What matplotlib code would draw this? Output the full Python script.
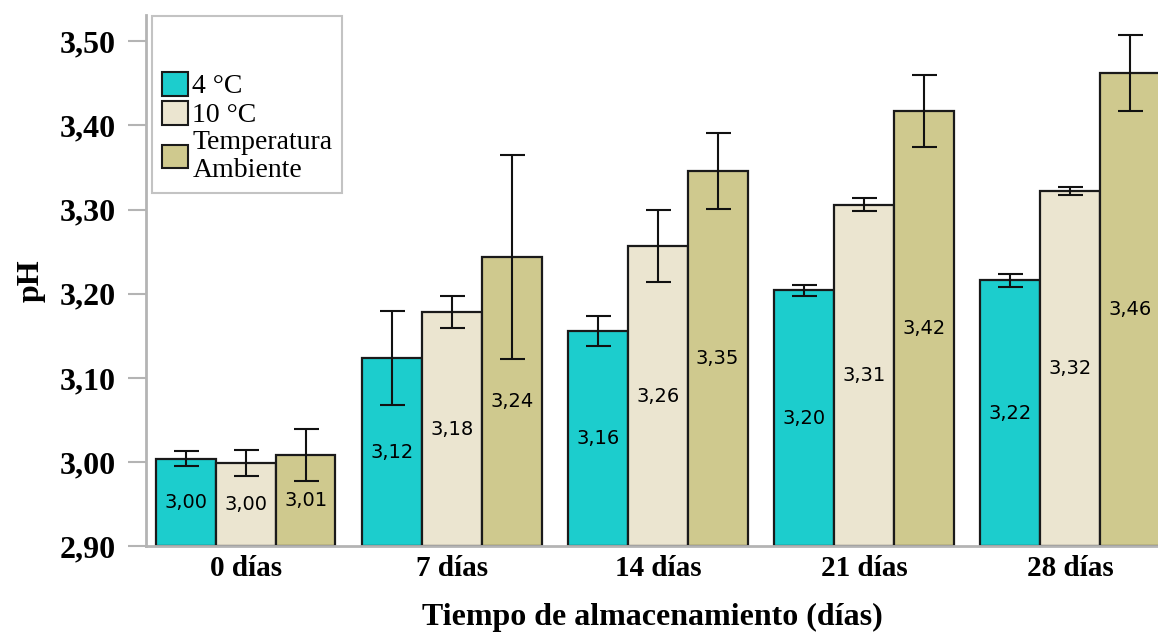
import numpy as np
import matplotlib
matplotlib.use("Agg")
import matplotlib.pyplot as plt

# storage time groups and temperature treatments
dias = ["0 días", "7 días", "14 días", "21 días", "28 días"]
tratamientos = ["4 °C", "10 °C", "Temperatura\nAmbiente"]

# mean pH per treatment
ph_4c = [3.004, 3.124, 3.156, 3.204, 3.216]
ph_10c = [2.999, 3.178, 3.257, 3.306, 3.322]
ph_amb = [3.008, 3.244, 3.346, 3.417, 3.462]

# error bar half-widths
err_4c = [0.009, 0.056, 0.018, 0.007, 0.008]
err_10c = [0.015, 0.019, 0.043, 0.008, 0.005]
err_amb = [0.031, 0.121, 0.045, 0.043, 0.045]

colores = ["#1ccdcd", "#ebe5d0", "#cfc98e"]
serif = "Liberation Serif"

fig = plt.figure(figsize=(11.58, 6.33), dpi=100)
ax = fig.add_axes([0.126, 0.137, 0.874, 0.839])

x = np.arange(len(dias))
ancho = 0.29
grid_color = "#b4b4b4"

series = [(ph_4c, err_4c), (ph_10c, err_10c), (ph_amb, err_amb)]
for i, ((vals, errs), color, nombre) in enumerate(zip(series, colores, tratamientos)):
    pos = x + (i - 1) * ancho
    base = 2.90
    ax.bar(pos, np.array(vals) - base, bottom=base, width=ancho, color=color,
           edgecolor="#1a1a1a", linewidth=1.6, label=nombre, zorder=2)
    ax.errorbar(pos, vals, yerr=errs, fmt="none", ecolor="#111111",
                elinewidth=1.5, capsize=9, capthick=1.5, zorder=3)
    for px, v in zip(pos, vals):
        ax.text(px, (base + v) / 2, f"{v:.2f}".replace(".", ","),
                ha="center", va="center", fontsize=14,
                family="DejaVu Sans", color="#000000", zorder=4)

ax.set_xlim(-0.485, 4.427)
ax.set_ylim(2.90, 3.531)
yt = np.arange(2.90, 3.501, 0.10)
ax.set_yticks(yt)
ax.set_yticklabels([f"{t:.2f}".replace(".", ",") for t in yt],
                   fontsize=23, fontweight="bold", family=serif)
ax.set_xticks(x)
ax.set_xticklabels(dias, fontsize=21, fontweight="bold", family=serif)
ax.tick_params(axis="y", length=13, width=1.5, color=grid_color, pad=9)
ax.tick_params(axis="x", length=0, pad=6)

for s in ["top", "right"]:
    ax.spines[s].set_visible(False)
for s in ["left", "bottom"]:
    ax.spines[s].set_color(grid_color)
    ax.spines[s].set_linewidth(2)

ax.set_xlabel("Tiempo de almacenamiento (días)", fontsize=23,
              fontweight="bold", family=serif, labelpad=15)
ax.set_ylabel("pH", fontsize=23, fontweight="bold", family=serif, labelpad=10)

leg = ax.legend(loc="upper left", bbox_to_anchor=(0.006, 0.999), title=" ",
                prop={"family": serif, "size": 20}, frameon=True,
                fancybox=False, handlelength=0.95, handleheight=0.95,
                handletextpad=0.15, labelspacing=0.05, borderpad=0.35,
                borderaxespad=0, alignment="left")
leg.get_title().set_fontsize(33)
leg.get_frame().set_edgecolor(grid_color)
leg.get_frame().set_linewidth(1.5)
for h in leg.legend_handles:
    h.set_linewidth(1.5)

fig.savefig("out.png", dpi=100)
